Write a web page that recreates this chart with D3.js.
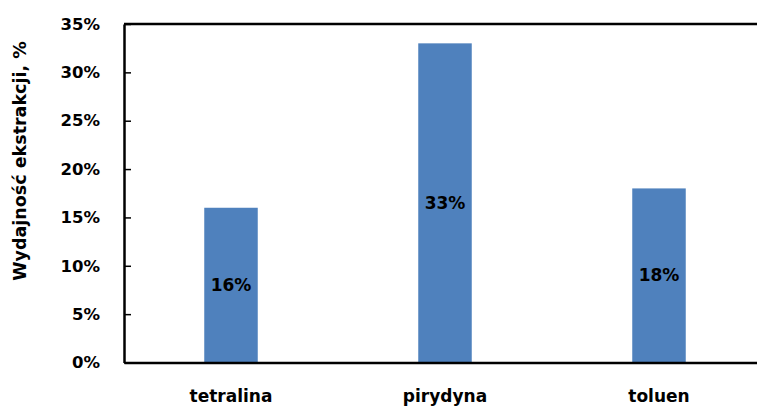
<!DOCTYPE html>
<html>
<head>
<meta charset="utf-8">
<script src="https://cdn.jsdelivr.net/npm/d3@7"></script>
<style>
  html, body { margin: 0; padding: 0; background: #fff; }
  svg text { font-family: "DejaVu Sans", "Liberation Sans", sans-serif; font-weight: bold; fill: #000; }
</style>
</head>
<body>
<svg id="chart" width="757" height="406"></svg>
<script>
const categories = ["tetralina", "pirydyna", "toluen"];
const values = [0.16, 0.33, 0.18];
const yTicks = [0, 0.05, 0.10, 0.15, 0.20, 0.25, 0.30, 0.35];
const yTitle = "Wydajność ekstrakcji, %";

const svg = d3.select("#chart");
const mLeft = 124, mRight = 766, mTop = 24, mBottom = 362.5;

const x = d3.scaleBand().domain(categories).range([mLeft, mRight])
  .paddingInner(0.75).paddingOuter(0.375);
const y = d3.scaleLinear().domain([0, 0.35]).range([mBottom, mTop]);
const fmt = d3.format(".0%");

// bars
svg.append("g").selectAll("rect").data(values).join("rect")
  .attr("x", (d, i) => x(categories[i]))
  .attr("width", x.bandwidth())
  .attr("y", d => y(d))
  .attr("height", d => y(0) - y(d))
  .attr("fill", "#4F81BD");

// data labels
svg.append("g").selectAll("text").data(values).join("text")
  .attr("x", (d, i) => x(categories[i]) + x.bandwidth() / 2)
  .attr("y", d => (y(d) + y(0)) / 2)
  .attr("text-anchor", "middle")
  .attr("dominant-baseline", "central")
  .style("font-size", "17px")
  .text(d => fmt(d));

// top border
svg.append("line")
  .attr("x1", mLeft).attr("x2", mRight)
  .attr("y1", mTop).attr("y2", mTop)
  .attr("stroke", "#000").attr("stroke-width", 2.5);

// y axis (ticks inside)
const yAxis = svg.append("g").attr("transform", `translate(${mLeft},0)`)
  .call(d3.axisLeft(y).tickValues(yTicks).tickFormat(fmt).tickSizeInner(-7).tickSizeOuter(0).tickPadding(24));
yAxis.select(".domain").attr("stroke", "#000").attr("stroke-width", 2.5);
yAxis.selectAll(".tick line").attr("stroke", "#000").attr("stroke-width", 1.5);
yAxis.selectAll(".tick text").style("font-size", "16.5px").style("font-family", null);

// x axis
const xAxis = svg.append("g").attr("transform", `translate(0,${mBottom})`)
  .call(d3.axisBottom(x).tickSize(0).tickPadding(27));
xAxis.select(".domain").attr("stroke", "#000").attr("stroke-width", 2.5);
xAxis.selectAll(".tick text").style("font-size", "17px").style("font-family", null);

// y title
svg.append("text")
  .attr("transform", "translate(20,161) rotate(-90)")
  .attr("text-anchor", "middle")
  .attr("dominant-baseline", "central")
  .style("font-size", "17.5px")
  .text(yTitle);
</script>
</body>
</html>
